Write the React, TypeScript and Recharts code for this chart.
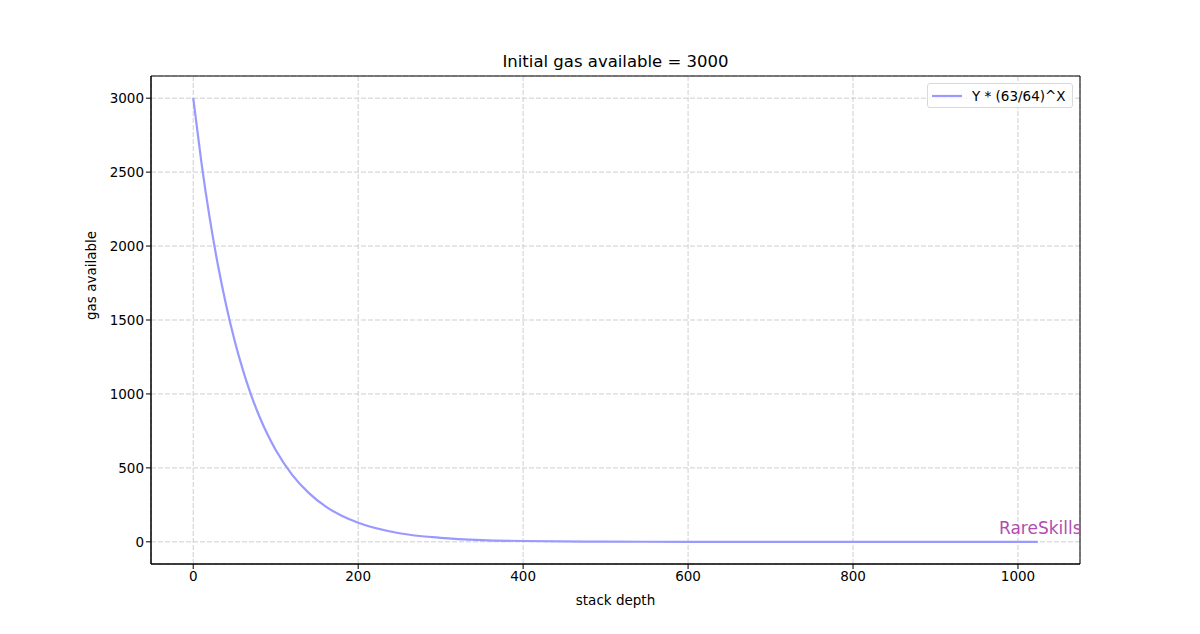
import React from "react";
import { LineChart, Line, XAxis, YAxis, CartesianGrid, ReferenceArea } from "recharts";

// stack depth values sampled along the curve
const depths = [0, 10, 20, 30, 40, 50, 60, 70, 80, 90, 100, 120, 140, 160, 180, 200, 250, 300, 350, 400, 500, 600, 700, 800, 900, 1024];
// gas available
const gasValues = [3000, 2563, 2189, 1870, 1598, 1365, 1166, 996, 851, 727, 621, 453, 331, 241, 176, 129, 58, 27, 12, 5.5, 1, 0.2, 0, 0, 0, 0];
const xTicks = [0, 200, 400, 600, 800, 1000];
const yTicks = [0, 500, 1000, 1500, 2000, 2500, 3000];

const data = depths.map((d, i) => ({ depth: d, gas: gasValues[i] }));

const FONT = "DejaVu Sans, sans-serif";
const LINE_COLOR = "#9999ff";
const X_DOMAIN = [-51.2, 1075.2];
const Y_DOMAIN = [-150, 3150];

function LegendBox() {
  return (
    <div
      style={{
        position: "absolute",
        left: 927,
        top: 83,
        width: 146,
        height: 25,
        border: "1px solid #d9d9d9",
        borderRadius: 3,
        background: "rgba(255,255,255,0.8)",
        display: "flex",
        alignItems: "center",
        fontFamily: FONT,
        fontSize: 13.5,
        color: "#000",
        boxSizing: "border-box",
      }}
    >
      <svg width={40} height={10} style={{ marginLeft: 4 }}>
        <line x1={0} y1={5} x2={30} y2={5} stroke={LINE_COLOR} strokeWidth={2.2} />
      </svg>
      <span>Y * (63/64)^X</span>
    </div>
  );
}

export default function App() {
  return (
    <div style={{ position: "absolute", left: 0, top: 0, width: 1200, height: 634, background: "#fff" }}>
      <div
        style={{
          position: "absolute",
          top: 52,
          left: 151,
          width: 929,
          textAlign: "center",
          fontFamily: FONT,
          fontSize: 16.5,
          color: "#000",
        }}
      >
        Initial gas available = 3000
      </div>
      <LineChart
        width={1200}
        height={634}
        data={data}
        margin={{ top: 76, right: 120, bottom: 20, left: 71 }}
      >
        <CartesianGrid stroke="#cfcfcf" strokeDasharray="5 2" />
        <XAxis
          dataKey="depth"
          type="number"
          domain={X_DOMAIN}
          ticks={xTicks}
          allowDataOverflow
          height={50}
          tickSize={5}
          stroke="#000"
          tick={{ fill: "#000", fontFamily: FONT, fontSize: 13.5 }}
          label={{ value: "stack depth", position: "insideBottom", offset: 9, fill: "#000", fontFamily: FONT, fontSize: 13.5 }}
        />
        <YAxis
          type="number"
          domain={Y_DOMAIN}
          ticks={yTicks}
          allowDataOverflow
          width={80}
          tickSize={5}
          stroke="#000"
          tick={{ fill: "#000", fontFamily: FONT, fontSize: 13.5 }}
          label={{ value: "gas available", angle: -90, position: "insideLeft", offset: 20, fill: "#000", fontFamily: FONT, fontSize: 13.5 }}
        />
        <ReferenceArea
          x1={X_DOMAIN[0]}
          x2={X_DOMAIN[1]}
          y1={Y_DOMAIN[0]}
          y2={Y_DOMAIN[1]}
          fill="none"
          stroke="#000"
          strokeWidth={1}
          ifOverflow="visible"
        />
        <Line
          type="monotone"
          dataKey="gas"
          stroke={LINE_COLOR}
          strokeWidth={2.2}
          dot={false}
          isAnimationActive={false}
        />
      </LineChart>
      <LegendBox />
      <div
        style={{
          position: "absolute",
          left: 999,
          top: 518,
          fontFamily: FONT,
          fontSize: 17,
          color: "#b04db0",
        }}
      >
        RareSkills
      </div>
    </div>
  );
}
